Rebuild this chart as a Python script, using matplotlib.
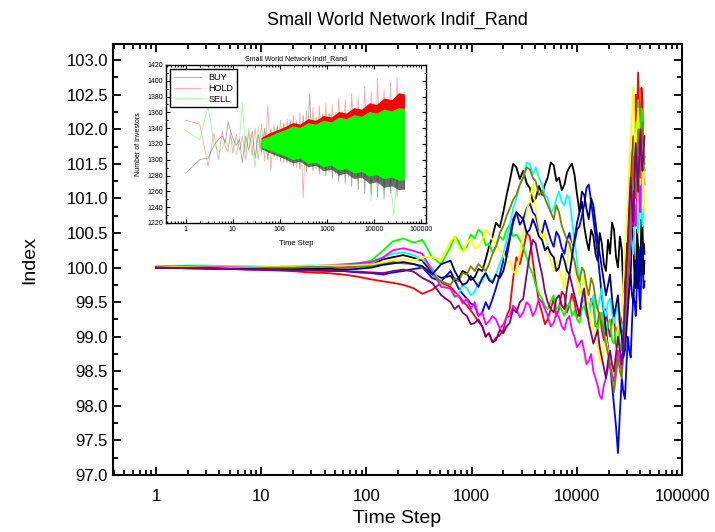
import numpy as np
import matplotlib
matplotlib.use('Agg')
import matplotlib.pyplot as plt
from matplotlib.ticker import FixedLocator, FuncFormatter, MultipleLocator, LogLocator, NullFormatter

plt.rcParams['font.family'] = ['Liberation Sans', 'DejaVu Sans']

# time steps used for the index curves
t = [1, 2, 3, 5, 8, 13, 19, 29, 43, 60, 82, 111, 145, 179, 224, 282, 340, 421, 514,
     630, 690, 750, 820, 900, 980, 1070, 1160, 1260, 1360,
     1460, 1580, 1700, 1850, 2000, 2150, 2300, 2480, 2660, 2870,
     3090, 3330, 3570, 3810, 4060, 4360, 4670, 4970, 5280, 5650,
     6020, 6390, 6760, 7190, 7620, 8050, 8490, 8980, 9480, 10040,
     10600, 11160, 11720, 12340, 12970, 13660, 14350, 15040, 15730, 16480,
     17240, 18060, 18880, 19760, 20640, 21590, 22540, 23550, 24570, 25640,
     26720, 27670, 28630, 29590, 30540, 31500, 32450, 33400, 34360, 35320,
     36280, 37240, 38200, 39160, 40120, 41080, 42040, 43000, 43960]

black = [100.00, 100.00, 99.99, 100.00, 100.00, 99.99, 99.98, 99.98, 99.99, 100.00,
         100.02, 100.05, 100.12, 100.15, 100.18, 100.14, 100.10, 99.92, 99.85,
         99.88, 99.80, 99.84, 99.95, 99.92, 99.82, 99.86, 99.98, 99.95, 100.12,
         100.30, 100.45, 100.65, 100.58, 100.80, 101.05, 101.25, 101.50, 101.45, 101.28,
         101.40, 101.22, 101.15, 100.95, 101.00, 101.18, 101.05, 101.20, 101.30, 101.52,
         101.48, 101.25, 101.30, 101.12, 101.20, 101.38, 101.45, 101.50, 101.35, 101.05,
         100.80, 100.95, 100.60, 100.40, 100.25, 100.55, 100.45, 100.20, 100.10, 100.50,
         100.35, 100.05, 99.95, 100.40, 100.20, 100.65, 100.55, 100.15, 100.00, 100.45,
         100.25, 99.65, 99.80, 100.35, 100.10, 99.75, 99.90, 100.60, 100.40, 99.85,
         99.70, 100.55, 100.30, 99.80, 100.00, 100.70, 100.60, 99.90, 100.10]
red = [100.00, 99.99, 99.98, 99.98, 99.97, 99.96, 99.95, 99.93, 99.92, 99.90,
       99.87, 99.83, 99.80, 99.78, 99.75, 99.70, 99.62, 99.68, 99.78,
       99.72, 99.65, 99.60, 99.52, 99.45, 99.38, 99.30, 99.22, 99.15, 99.00,
       99.05, 98.92, 98.98, 99.02, 99.10, 99.30, 99.40, 99.85, 100.15, 100.05,
       100.25, 100.50, 100.45, 100.10, 99.80, 99.50, 99.35, 99.18, 99.25, 99.40,
       99.55, 99.30, 99.40, 99.65, 99.60, 99.35, 99.45, 99.62, 99.50, 99.28,
       99.35, 99.50, 99.60, 99.40, 99.30, 99.55, 99.45, 99.15, 99.20, 99.35,
       99.10, 98.95, 99.40, 99.15, 99.00, 99.25, 99.30, 98.85, 98.90, 99.35,
       99.20, 99.05, 99.60, 100.10, 100.30, 100.80, 101.20, 101.60, 101.90, 101.30,
       102.50, 101.90, 102.82, 102.20, 101.80, 102.60, 102.40, 101.50, 101.60]
green = [100.01, 100.02, 100.02, 100.01, 100.00, 99.99, 100.00, 100.01, 100.03, 100.05,
         100.06, 100.10, 100.25, 100.38, 100.42, 100.36, 100.40, 100.15, 100.05,
         100.30, 100.45, 100.38, 100.25, 100.30, 100.48, 100.42, 100.55, 100.50, 100.32,
         100.35, 100.22, 100.30, 100.45, 100.40, 100.55, 100.62, 100.45, 100.48, 100.40,
         100.30, 100.15, 100.00, 99.90, 99.75, 99.62, 99.55, 99.45, 99.40, 99.52,
         99.60, 99.40, 99.45, 99.38, 99.30, 99.42, 99.50, 99.30, 99.38, 99.25,
         99.20, 99.40, 99.45, 99.30, 99.25, 99.48, 99.55, 99.20, 99.10, 99.28,
         99.35, 99.10, 99.00, 99.20, 99.25, 98.95, 98.90, 99.10, 99.15, 98.90,
         98.80, 99.05, 99.30, 99.55, 99.80, 100.20, 100.60, 101.10, 101.50, 101.90,
         102.10, 101.60, 102.42, 101.90, 101.70, 102.30, 102.20, 101.60, 101.40]
blue = [100.00, 100.00, 99.99, 99.99, 99.98, 99.98, 99.97, 99.97, 99.96, 99.95,
        99.93, 99.92, 99.90, 99.93, 99.95, 99.98, 100.00, 99.85, 99.80,
        99.95, 99.82, 99.70, 99.62, 99.55, 99.48, 99.45, 99.30, 99.35, 99.50,
        99.40, 99.55, 99.70, 99.90, 100.10, 100.25, 100.45, 100.70, 100.80, 100.62,
        100.70, 100.85, 100.93, 100.80, 100.75, 100.55, 100.50, 100.68, 100.55, 100.40,
        100.30, 100.52, 100.45, 100.28, 100.20, 100.40, 100.50, 100.30, 100.35, 100.55,
        100.60, 100.75, 100.90, 101.15, 101.20, 100.95, 100.70, 100.45, 100.20, 99.90,
        99.60, 99.35, 99.10, 98.85, 98.60, 98.30, 98.00, 97.70, 97.32, 97.90,
        98.40, 98.20, 98.10, 98.60, 99.00, 98.80, 98.70, 99.20, 99.60, 99.50,
        99.30, 99.80, 100.20, 99.60, 99.40, 100.00, 100.30, 99.70, 99.80]
cyan = [100.02, 100.03, 100.03, 100.02, 100.02, 100.01, 100.02, 100.03, 100.03, 100.04,
        100.05, 100.06, 100.15, 100.20, 100.22, 100.18, 100.12, 100.00, 99.75,
        99.68, 99.58, 99.62, 99.75, 99.70, 99.60, 99.65, 99.78, 99.80, 99.92,
        99.85, 99.80, 99.90, 100.05, 100.20, 100.40, 100.60, 100.85, 101.00, 101.20,
        101.30, 101.52, 101.50, 101.35, 101.45, 101.30, 101.20, 101.05, 101.00, 100.80,
        100.85, 101.00, 101.10, 100.95, 100.90, 101.05, 101.00, 100.70, 100.40, 100.10,
        99.80, 99.65, 99.50, 99.40, 99.30, 99.50, 99.60, 99.45, 99.40, 99.55,
        99.70, 99.40, 99.30, 99.50, 99.55, 99.35, 99.20, 99.35, 99.45, 99.25,
        99.10, 99.20, 99.40, 99.70, 99.90, 100.30, 100.50, 100.35, 100.20, 100.60,
        100.90, 100.70, 100.50, 100.90, 101.20, 100.80, 100.60, 100.80, 100.90]
magenta = [100.01, 100.02, 100.01, 100.01, 100.00, 100.00, 100.01, 100.02, 100.03, 100.04,
           100.06, 100.08, 100.15, 100.25, 100.28, 100.24, 100.20, 99.95, 99.72,
           99.70, 99.58, 99.60, 99.48, 99.55, 99.40, 99.50, 99.30, 99.35, 99.18,
           99.22, 99.30, 99.25, 99.12, 99.18, 99.28, 99.30, 99.45, 99.40, 99.28,
           99.35, 99.50, 99.45, 99.30, 99.38, 99.55, 99.50, 99.40, 99.30, 99.15,
           99.20, 99.35, 99.28, 99.15, 99.10, 99.25, 99.30, 99.10, 99.00, 98.85,
           98.90, 98.95, 98.80, 98.60, 98.65, 98.75, 98.50, 98.40, 98.30, 98.15,
           98.10, 98.30, 98.40, 98.55, 98.70, 98.45, 98.35, 98.60, 98.80, 98.65,
           98.50, 98.80, 99.10, 99.40, 99.60, 100.00, 100.40, 100.80, 101.10, 100.70,
           100.60, 101.20, 101.60, 101.00, 100.80, 101.50, 101.90, 101.30, 101.20]
yellow = [100.01, 100.01, 100.00, 100.00, 100.00, 100.01, 100.02, 100.02, 100.03, 100.03,
          100.03, 100.04, 100.08, 100.10, 100.12, 100.10, 100.15, 100.15, 100.12,
          100.38, 100.45, 100.30, 100.22, 100.35, 100.42, 100.28, 100.30, 100.40, 100.55,
          100.50, 100.40, 100.35, 100.25, 100.20, 100.05, 100.10, 99.95, 99.90, 100.20,
          100.50, 100.80, 101.00, 101.20, 100.85, 100.60, 100.40, 100.50, 100.30, 100.10,
          99.95, 100.10, 100.00, 99.85, 99.70, 100.05, 100.40, 100.30, 100.10, 99.80,
          99.60, 99.75, 99.90, 99.65, 99.40, 99.20, 99.10, 99.00, 98.90, 98.70,
          98.60, 98.85, 99.00, 98.80, 98.70, 98.55, 98.50, 98.80, 99.10, 99.25,
          99.40, 99.80, 100.20, 100.70, 101.00, 101.50, 101.80, 102.20, 102.60, 102.00,
          101.60, 102.00, 102.30, 101.80, 101.20, 101.60, 101.90, 101.30, 100.80]
olive = [100.00, 100.00, 100.00, 99.99, 99.99, 100.00, 100.00, 100.01, 100.01, 100.00,
         100.01, 100.02, 100.05, 100.08, 100.06, 100.05, 100.00, 99.90, 99.80,
         99.75, 99.85, 99.80, 99.92, 99.90, 100.02, 99.95, 100.05, 100.00, 99.95,
         100.05, 100.20, 100.30, 100.50, 100.60, 100.75, 100.85, 100.98, 101.05, 101.20,
         101.30, 101.45, 101.42, 101.30, 101.25, 101.05, 101.10, 101.00, 100.90, 100.80,
         100.70, 100.90, 100.80, 100.60, 100.50, 100.40, 100.35, 100.20, 100.10, 99.90,
         99.80, 100.00, 99.95, 99.75, 99.60, 99.85, 99.75, 99.55, 99.40, 99.30,
         99.20, 99.05, 98.90, 98.75, 98.60, 98.40, 98.20, 98.45, 98.70, 98.50,
         98.40, 98.80, 99.20, 99.60, 99.90, 100.40, 100.80, 101.20, 101.60, 101.20,
         101.00, 101.50, 102.00, 101.70, 101.30, 101.80, 102.10, 101.70, 101.50]
navy = [100.00, 99.99, 99.99, 99.98, 99.98, 99.97, 99.97, 99.96, 99.96, 99.97,
        99.98, 100.00, 100.04, 100.06, 100.08, 100.05, 100.02, 99.90, 100.05,
        100.10, 99.95, 99.85, 99.75, 99.78, 99.88, 99.80, 99.72, 99.85, 99.92,
        99.82, 99.78, 99.90, 99.85, 99.95, 100.15, 100.40, 100.65, 100.80, 100.75,
        100.70, 100.50, 100.55, 100.70, 100.60, 100.45, 100.40, 100.25, 100.30, 100.20,
        100.15, 99.95, 100.00, 100.20, 100.10, 99.95, 99.90, 100.15, 100.40, 100.65,
        100.80, 101.10, 101.05, 100.85, 100.70, 101.00, 100.90, 100.65, 100.40, 100.20,
        100.00, 99.80, 99.60, 99.75, 99.90, 99.55, 99.30, 99.45, 99.60, 99.20,
        99.00, 98.70, 98.80, 99.10, 99.40, 99.70, 99.90, 99.60, 99.50, 99.85,
        100.10, 99.80, 99.70, 100.05, 100.30, 100.10, 99.90, 100.35, 100.20]
purple = [100.00, 99.99, 99.99, 99.98, 99.97, 99.97, 99.96, 99.96, 99.95, 99.95,
          99.94, 99.93, 99.92, 99.95, 99.97, 99.94, 99.85, 99.78, 99.60,
          99.50, 99.40, 99.45, 99.35, 99.30, 99.18, 99.20, 99.25, 99.15, 99.00,
          99.05, 98.92, 98.95, 99.10, 99.05, 99.15, 99.20, 99.40, 99.35, 99.50,
          99.55, 99.90, 100.20, 100.40, 100.35, 100.10, 99.90, 99.65, 99.50, 99.40,
          99.35, 99.55, 99.60, 99.45, 99.40, 99.70, 99.90, 99.75, 99.60, 99.45,
          99.30, 99.55, 99.70, 99.40, 99.20, 99.05, 98.90, 99.00, 99.10, 98.85,
          98.70, 98.55, 98.40, 98.65, 98.80, 98.60, 98.50, 98.75, 99.00, 98.80,
          98.60, 99.00, 99.50, 100.00, 100.40, 100.90, 101.30, 100.90, 100.60, 101.30,
          101.80, 101.40, 101.10, 101.60, 102.00, 101.60, 101.40, 101.70, 101.90]

series = [(black, 'black'), (red, 'red'), (green, '#00ff00'), (blue, 'blue'),
          (cyan, 'cyan'), (magenta, 'magenta'), (yellow, 'yellow'), (olive, 'olive'),
          (navy, 'navy'), (purple, 'purple')]

# inset: number of investors
it = [1, 2, 3, 4, 5, 6, 7, 8, 9, 10, 12, 14, 16, 19, 22, 26, 30, 35, 41, 48,
      56, 65, 76, 89, 104, 122, 143, 167, 196, 230, 270, 316, 370, 434, 508, 595,
      697, 817, 957, 1121, 1313, 1539, 1803, 2112, 2475, 2900, 3398, 3981, 4665,
      5466, 6405, 7505, 8794, 10304, 12074, 14148, 16578, 19425, 22761, 26670,
      31250, 36617, 45000]
buy = [1283, 1300, 1302, 1318, 1326, 1330, 1322, 1348, 1336, 1328,
       1318, 1326, 1296, 1330, 1312, 1336, 1302, 1332, 1310, 1340,
       1300, 1338, 1304, 1342, 1298, 1345, 1296, 1350, 1292, 1348,
       1288, 1356, 1285, 1384, 1286, 1352, 1282, 1355, 1280, 1358,
       1276, 1356, 1272, 1360, 1270, 1358, 1266, 1362, 1262, 1360,
       1258, 1364, 1256, 1362, 1252, 1366, 1250, 1362, 1258, 1366,
       1254, 1364, 1262]
hold = [1350, 1345, 1292, 1334, 1300, 1336, 1316, 1310, 1334, 1308,
        1332, 1312, 1330, 1300, 1335, 1305, 1340, 1300, 1345, 1298,
        1368, 1286, 1345, 1300, 1350, 1296, 1352, 1294, 1356, 1290,
        1360, 1252, 1362, 1290, 1366, 1288, 1368, 1286, 1372, 1284,
        1370, 1282, 1378, 1280, 1376, 1278, 1384, 1277, 1380, 1276,
        1392, 1275, 1386, 1274, 1402, 1273, 1390, 1272, 1398, 1272,
        1404, 1271, 1386]
sell = [1337, 1325, 1368, 1320, 1310, 1314, 1326, 1316, 1330, 1320,
        1306, 1328, 1372, 1310, 1340, 1318, 1290, 1342, 1306, 1336,
        1300, 1340, 1304, 1345, 1300, 1346, 1298, 1348, 1295, 1350,
        1292, 1350, 1290, 1354, 1288, 1356, 1286, 1358, 1285, 1358,
        1283, 1360, 1282, 1362, 1280, 1362, 1278, 1364, 1270, 1364,
        1276, 1366, 1248, 1366, 1274, 1368, 1262, 1366, 1272, 1230,
        1274, 1368, 1275]

# range covered by the dense oscillations
bt = [40, 60, 90, 130, 190, 270, 400, 580, 850, 1250, 1800, 2600, 3800, 5500,
      8000, 11500, 16500, 24000, 34000, 45000]
sell_hi = [1326, 1330, 1335, 1338, 1343, 1341, 1347, 1345, 1350, 1348, 1354, 1352, 1357, 1355,
           1361, 1359, 1364, 1362, 1366, 1365]
sell_lo = [1316, 1312, 1308, 1305, 1300, 1302, 1295, 1297, 1291, 1293, 1287, 1289, 1283, 1285,
           1279, 1281, 1276, 1278, 1274, 1275]
hold_hi = [1328, 1334, 1338, 1342, 1347, 1345, 1352, 1350, 1356, 1354, 1361, 1359, 1366, 1364,
           1372, 1370, 1378, 1376, 1385, 1383]
hold_lo = [1318, 1314, 1310, 1307, 1303, 1304, 1299, 1300, 1295, 1296, 1291, 1292, 1287, 1288,
           1284, 1285, 1281, 1282, 1279, 1280]
buy_hi = [1324, 1328, 1332, 1336, 1340, 1339, 1344, 1343, 1348, 1347, 1352, 1350, 1355, 1354,
          1359, 1358, 1362, 1361, 1364, 1363]
buy_lo = [1314, 1309, 1305, 1301, 1296, 1298, 1291, 1293, 1286, 1288, 1281, 1283, 1276, 1278,
          1270, 1272, 1265, 1267, 1262, 1263]

fig = plt.figure(figsize=(7.15, 5.32), dpi=100)
ax = fig.add_axes([0.158, 0.107, 0.796, 0.810])

for vals, c in series:
    ax.plot(t, vals, color=c, lw=1.3)

ax.set_xscale('log')
ax.set_xlim(0.39, 100000)
ax.set_ylim(97.0, 103.23)
ax.xaxis.set_major_locator(FixedLocator([1, 10, 100, 1000, 10000, 100000]))
ax.xaxis.set_major_formatter(FuncFormatter(lambda v, p: '%d' % v))
ax.xaxis.set_minor_locator(LogLocator(base=10, subs=np.arange(2, 10)))
ax.xaxis.set_minor_formatter(NullFormatter())
ax.yaxis.set_major_locator(MultipleLocator(0.5))
ax.yaxis.set_minor_locator(MultipleLocator(0.25))
ax.yaxis.set_major_formatter(FuncFormatter(lambda v, p: '%.1f' % v))
ax.tick_params(which='both', direction='in', top=True, right=True, labelsize=12, width=1.3)
ax.tick_params(which='major', length=6)
ax.tick_params(which='minor', length=3.5)
ax.tick_params(axis='x', pad=10)
for s in ax.spines.values():
    s.set_linewidth(1.5)
ax.set_xlabel('Time Step', fontsize=14)
ax.set_ylabel('Index', fontsize=14, labelpad=20)
ax.set_title('Small World Network Indif_Rand', fontsize=13, pad=14)

# inset
ins = fig.add_axes([0.232, 0.581, 0.364, 0.297])
ins.plot(it, buy, color='black', lw=0.6, alpha=0.35, zorder=1)
ins.plot(it, hold, color='red', lw=0.6, alpha=0.35, zorder=1)
ins.plot(it, sell, color='#00ff00', lw=0.6, alpha=0.4, zorder=1)
ins.fill_between(bt, buy_lo, buy_hi, color='#333333', alpha=0.7, lw=0, zorder=2)
ins.fill_between(bt, hold_lo, hold_hi, color='red', lw=0, zorder=2)
ins.fill_between(bt, sell_lo, sell_hi, color='#00ff00', lw=0, zorder=2)
ins.plot([], [], color='black', lw=0.8, alpha=0.3, label='BUY')
ins.plot([], [], color='red', lw=0.8, alpha=0.3, label='HOLD')
ins.plot([], [], color='#00ff00', lw=0.8, alpha=0.3, label='SELL')
ins.set_xscale('log')
ins.set_xlim(0.38, 130000)
ins.set_ylim(1220, 1420)
ins.xaxis.set_major_locator(FixedLocator([1, 10, 100, 1000, 10000, 100000]))
ins.xaxis.set_major_formatter(FuncFormatter(lambda v, p: '%d' % v))
ins.xaxis.set_minor_locator(LogLocator(base=10, subs=np.arange(2, 10)))
ins.xaxis.set_minor_formatter(NullFormatter())
ins.yaxis.set_major_locator(MultipleLocator(20))
ins.yaxis.set_minor_locator(MultipleLocator(10))
ins.tick_params(which='both', direction='in', top=True, right=True, labelsize=5, width=0.8, pad=2)
ins.tick_params(which='major', length=3)
ins.tick_params(which='minor', length=1.5)
for s in ins.spines.values():
    s.set_linewidth(1.0)
ins.set_xlabel('Time Step', fontsize=5.5, labelpad=5)
ins.set_ylabel('Number of Investors', fontsize=5, labelpad=4)
ins.set_title('Small World Network Indif_Rand', fontsize=5, pad=3)
leg = ins.legend(loc='upper left', fontsize=6.5, fancybox=False, edgecolor='black',
                 framealpha=1, handlelength=3, borderpad=0.4, labelspacing=0.2)
leg.set_zorder(5)
leg.get_frame().set_linewidth(1.0)

fig.savefig('out.png', dpi=100)
